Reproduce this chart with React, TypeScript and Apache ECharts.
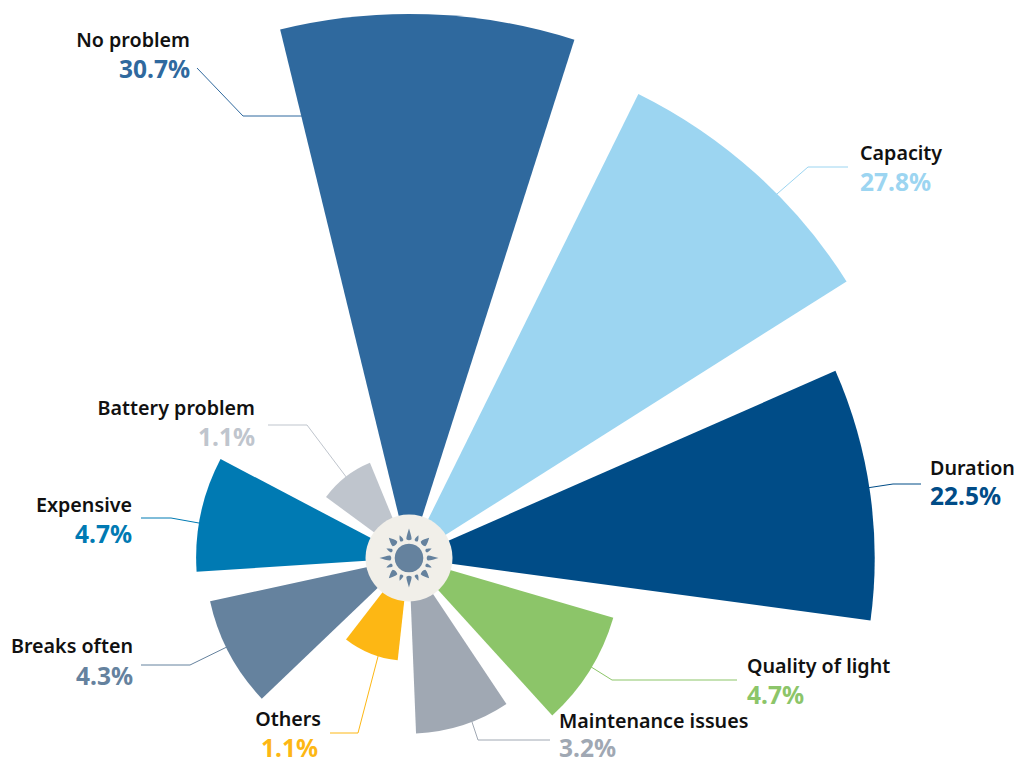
import React, { useEffect, useRef } from "react";
import * as echarts from "echarts";

const categories = ["No problem", "Capacity", "Duration", "Quality of light", "Maintenance issues", "Others", "Breaks often", "Expensive", "Battery problem"];
const shares = [30.7, 27.8, 22.5, 4.7, 3.2, 1.1, 4.3, 4.7, 1.1];
const colors = ["#2f699e", "#9cd5f1", "#004c87", "#8cc569", "#a0a8b3", "#fdb714", "#65829e", "#007ab3", "#bfc5cd"];
// label anchor: x, align, name y, percentage y, percentage x
const labelAnchors: [number, "left" | "right", number, number, number][] = [
  [190, "right", 39, 68, 190],
  [860, "left", 152, 181, 860],
  [930, "left", 467, 495, 930],
  [747, "left", 665, 694, 747],
  [559, "left", 720, 747.5, 559],
  [321, "right", 718, 747, 318],
  [133, "right", 645, 675, 133],
  [132, "right", 504, 533, 132],
  [255, "right", 407, 436, 255],
];
const leaderLines: number[][][] = [
  [[197, 68], [243, 116], [310, 116]],
  [[848, 167], [808, 167], [770, 200]],
  [[921, 484], [893, 484], [860, 489]],
  [[737, 680], [612, 680], [580, 660]],
  [[550, 740], [478, 740], [468, 710]],
  [[330, 733], [358, 733], [381, 645]],
  [[141, 665], [190, 665], [235, 643]],
  [[141, 518], [171, 518], [210, 525]],
  [[268, 425], [307, 425], [350, 482]],
];

const CX = 409;
const CY = 558;
const FONT = "'Noto Sans', sans-serif";
const SUN = "#65829e";

echarts.graphic.registerShape(
  "sunRayLong",
  echarts.graphic.extendPath("M0 -29.5 C1 -26 2.8 -21 2.6 -18.8 Q0 -16.6 -2.6 -18.8 C-2.8 -21 -1 -26 0 -29.5Z", {}) as any
);
echarts.graphic.registerShape(
  "sunRayWide",
  echarts.graphic.extendPath("M0 -28.5 C1.4 -26 3.6 -22 3.3 -19.8 Q0 -17.6 -3.3 -19.8 C-3.6 -22 -1.4 -26 0 -28.5Z", {}) as any
);
echarts.graphic.registerShape(
  "sunRaySmall",
  echarts.graphic.extendPath("M0 -24.5 C0.8 -23 1.9 -20.5 1.8 -18.8 Q0 -17 -1.8 -18.8 C-1.9 -20.5 -0.8 -23 0 -24.5Z", {}) as any
);

function buildRays() {
  const out: any[] = [];
  for (let i = 0; i < 16; i++) {
    const type = i % 4 === 0 ? "sunRayLong" : i % 2 === 0 ? "sunRayWide" : "sunRaySmall";
    out.push({
      type,
      x: CX,
      y: CY,
      rotation: (-i * Math.PI) / 8,
      silent: true,
      z: 12,
      style: { fill: SUN },
    });
  }
  return out;
}

export default function App() {
  const ref = useRef<HTMLDivElement>(null);
  useEffect(() => {
    const chart = echarts.init(ref.current!, undefined, { renderer: "svg" });
    const texts: any[] = [];
    categories.forEach((name, i) => {
      const [x, align, y1, y2, x2] = labelAnchors[i];
      texts.push({
        type: "text",
        x,
        y: y1,
        z: 12,
        style: { text: name, fill: "#111111", font: `600 19.7px ${FONT}`, align, verticalAlign: "middle" },
      });
      texts.push({
        type: "text",
        x: x2,
        y: y2,
        z: 12,
        style: { text: `${shares[i]}%`, fill: colors[i], font: `700 24.5px ${FONT}`, align, verticalAlign: "middle" },
      });
    });
    chart.setOption({
      animation: false,
      backgroundColor: "#ffffff",
      series: [
        {
          type: "pie",
          roseType: "area",
          center: [CX, CY],
          radius: [0, 544],
          startAngle: 108,
          padAngle: 8.6,
          minAngle: 0,
          z: 5,
          avoidLabelOverlap: false,
          label: { show: false },
          labelLine: { show: false },
          silent: true,
          // slice area is proportional to the share, so radius goes with its root
          data: categories.map((name, i) => ({
            name,
            value: Math.sqrt(shares[i]),
            itemStyle: { color: colors[i] },
          })),
        },
      ],
      graphic: {
        elements: [
          ...leaderLines.map((pts, i) => ({
            type: "polyline",
            shape: { points: pts },
            silent: true,
            z: 1,
            style: { stroke: colors[i], lineWidth: 1, fill: "none" },
          })),
          {
            type: "circle",
            shape: { cx: CX, cy: CY, r: 43.5 },
            silent: true,
            z: 10,
            style: { fill: "#f1efe9" },
          },
          {
            type: "circle",
            shape: { cx: CX, cy: CY, r: 14.3 },
            silent: true,
            z: 12,
            style: { fill: SUN },
          },
          ...buildRays(),
          ...texts,
        ],
      },
    });
    return () => chart.dispose();
  }, []);
  return <div ref={ref} style={{ position: "absolute", left: 0, top: 0, width: 1016, height: 764 }} />;
}
